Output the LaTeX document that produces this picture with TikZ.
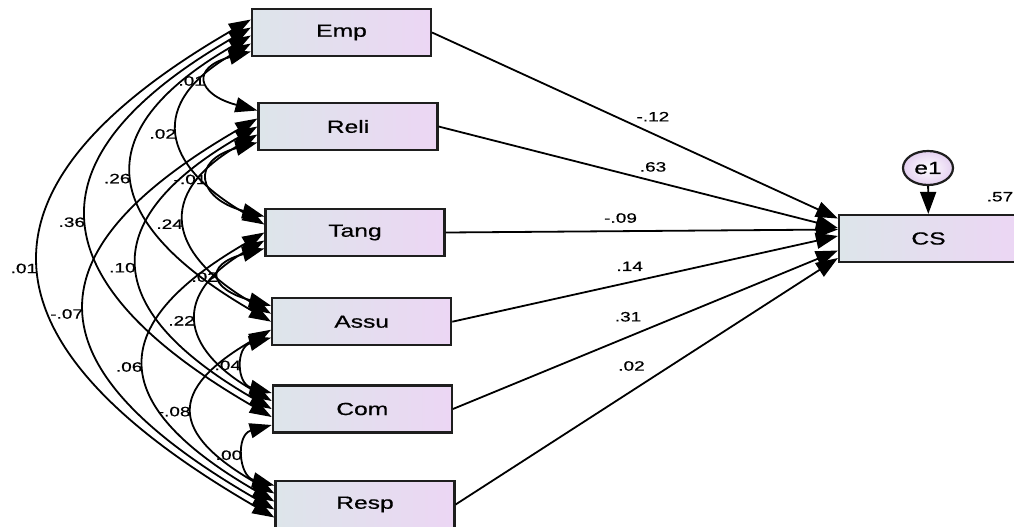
\documentclass[tikz,border=0pt]{standalone}
\usepackage{fontspec}
\setmainfont{Liberation Sans}[FakeStretch=1.4,FakeBold=0.6]
\usetikzlibrary{calc,positioning,arrows.meta,shapes.geometric}
\newlength{\boxw}
\setlength{\boxw}{89.5pt}
\newlength{\boxh}
\setlength{\boxh}{23.5pt}
\definecolor{boxleft}{RGB}{221,229,234}
\definecolor{boxright}{RGB}{236,214,244}
\definecolor{errfill}{RGB}{228,208,240}
\definecolor{edge}{RGB}{30,30,30}
\newcommand{\boxfont}{\fontsize{8.8}{10}\selectfont}
\newcommand{\coeffont}{\fontsize{6.8}{8}\selectfont}
\newcommand{\Cov}[5]{%
	\pgfmathsetmacro{\OUT}{180+#3}%
	\pgfmathsetmacro{\IN}{180-#3}%
	\draw[cov] (#1) to[out=\OUT,in=\IN,looseness=#4]
	node[covlabel] {#5} (#2);
}

\begin{document}
\begin{tikzpicture}[x=0.5pt,y=-0.5pt,
	var/.style={draw=edge,line width=1.1pt,left color=boxleft,right color=boxright,
		minimum width=\boxw,minimum height=\boxh,inner sep=0pt,font=\boxfont},
	err/.style={ellipse,draw=edge,line width=1.1pt,inner color=white,outer color=errfill,
		minimum width=25pt,minimum height=17pt,inner sep=0pt,font=\boxfont},
	reg/.style={-{Triangle[length=11pt,width=8pt]},line width=0.9pt},
	cov/.style={{Triangle[length=11pt,width=7.5pt]}-{Triangle[length=11pt,width=7.5pt]},line width=0.9pt},
	coef/.style={inner sep=0pt,font=\coeffont},
	covlabel/.style={coef,left=1.5pt}]
	
	\useasboundingbox (0,0) rectangle (1014,526);
	\clip (0,0) rectangle (1014,526);
	
	% variables observées (coordonnées en pixels)
	\node[var] (Emp)  at (341.5,32.5) {Emp};
	\node[var] (Reli) at (348,126.5)  {Reli};
	\node[var] (Tang) at (355,232.5)  {Tang};
	\node[var] (Assu) at (361.7,321.7) {Assu};
	\node[var] (Com)  at (362.3,409)  {Com};
	\node[var] (Resp) at (365,504.5)  {Resp};
	
	\node[var] (CS) at (928.5,238.5) {CS};
	\node[err] (e1) at (928,168) {e1};
	\node[coef,anchor=south east] (r2) at ($(CS.north east)+(-5.5,-12)$) {.57};
	
	% points d'attache à gauche des boîtes
	\foreach \v/\s in {Emp/3,Reli/0,Tang/0,Assu/0,Com/0,Resp/-3}{
		\foreach \k in {1,...,5}{
			\coordinate (\v\k) at ($(\v.west)+(0,{(\k-3)*8+\s})$);
		}
	}
	
	% --- covariances ---
	\Cov{Emp5}{Reli1}{15}{2.70}{.01}
	\Cov{Emp4}{Tang2}{30}{1.69}{.02}
	\Cov{Emp3}{Assu3}{30}{1.74}{.26}
	\Cov{Emp2}{Com4}{30}{1.74}{.36}
	\Cov{Emp1}{Resp5}{30}{1.75}{.01}
	
	\Cov{Reli5}{Tang1}{15}{2.40}{-.01}
	\Cov{Reli4}{Assu2}{30}{1.70}{.24}
	\Cov{Reli3}{Com3}{30}{1.74}{.10}
	\Cov{Reli2}{Resp4}{30}{1.80}{-.07}
	
	\Cov{Tang5}{Assu1}{15}{2.82}{.02}
	\Cov{Tang4}{Com2}{30}{1.70}{.22}
	\Cov{Tang3}{Resp3}{30}{1.80}{.06}
	
	\Cov{Assu5}{Com1}{15}{1.69}{.04}
	\Cov{Assu4}{Resp2}{30}{1.88}{-.08}
	
	\Cov{Com5}{Resp1}{15}{1.57}{.00}
	
	% --- effets sur CS ---
	\foreach \v/\dy/\pp/\up/\lab in {Emp/-20/0.544/5.7pt/-.12,Reli/-10.5/0.537/4.2pt/.63,
		Tang/-9/0.446/3.7pt/-.09,Assu/-2.5/0.46/5.2pt/.14,Com/12/0.455/7.2pt/.31,Resp/19.5/0.46/9.7pt/.02}{
		\draw[reg] (\v.east) -- node[coef,pos=\pp,above=\up] {\lab} ($(CS.west)+(0,\dy)$);
	}
	\draw[reg] (e1) -- (CS);
	
\end{tikzpicture}
\end{document}
